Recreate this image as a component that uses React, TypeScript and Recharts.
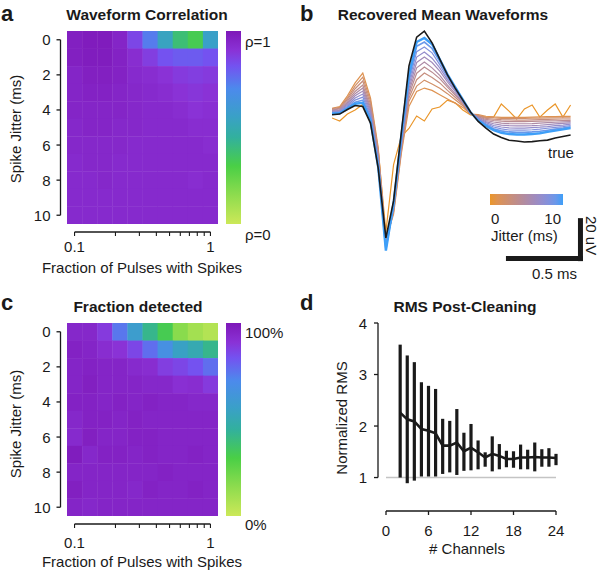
import React from "react";
import {
  ScatterChart,
  Scatter,
  LineChart,
  Line,
  XAxis,
  YAxis,
  ReferenceLine,
  ErrorBar,
} from "recharts";

const FONT = "'Liberation Sans', Arial, Helvetica, sans-serif";
const INK = "#1a1a1a";
const FS = 15;

// ---- a / c: heatmaps (rows = spike jitter 0..10 ms, cols = fraction of pulses) ----
const fractions = [0.1, 0.1292, 0.1668, 0.2154, 0.2783, 0.3594, 0.4642, 0.5995, 0.7743, 1];
const jitters = [0, 1, 2, 3, 4, 5, 6, 7, 8, 9, 10];
const fractionTicks = [0.1, 0.2, 0.3, 0.4, 0.5, 0.6, 0.7, 0.8, 0.9, 1];
const jitterTicks = [0, 2, 4, 6, 8, 10];

const corrValues = [
  [0.97, 0.985, 0.985, 0.95, 0.85, 0.73, 0.54, 0.38, 0.32, 0.56],
  [0.97, 0.98, 0.98, 0.96, 0.92, 0.87, 0.82, 0.8, 0.8, 0.82],
  [0.95, 0.97, 0.97, 0.96, 0.93, 0.92, 0.9, 0.88, 0.87, 0.88],
  [0.95, 0.96, 0.96, 0.95, 0.94, 0.93, 0.92, 0.9, 0.89, 0.9],
  [0.95, 0.95, 0.95, 0.95, 0.94, 0.93, 0.93, 0.92, 0.9, 0.91],
  [0.94, 0.95, 0.95, 0.94, 0.94, 0.93, 0.93, 0.93, 0.92, 0.92],
  [0.94, 0.94, 0.94, 0.94, 0.93, 0.93, 0.93, 0.93, 0.93, 0.92],
  [0.93, 0.94, 0.94, 0.93, 0.93, 0.93, 0.93, 0.93, 0.93, 0.93],
  [0.93, 0.93, 0.94, 0.93, 0.93, 0.93, 0.93, 0.93, 0.92, 0.93],
  [0.93, 0.93, 0.93, 0.93, 0.93, 0.93, 0.93, 0.93, 0.93, 0.93],
  [0.93, 0.93, 0.93, 0.93, 0.93, 0.93, 0.93, 0.93, 0.93, 0.93],
];

const detectValues = [
  [0.94, 0.94, 0.88, 0.74, 0.58, 0.42, 0.32, 0.16, 0.1, 0.06],
  [0.96, 0.95, 0.92, 0.9, 0.85, 0.76, 0.66, 0.55, 0.5, 0.42],
  [0.95, 0.96, 0.95, 0.95, 0.93, 0.92, 0.87, 0.85, 0.82, 0.76],
  [0.95, 0.97, 0.95, 0.95, 0.95, 0.94, 0.94, 0.91, 0.92, 0.88],
  [0.96, 0.96, 0.95, 0.96, 0.95, 0.96, 0.95, 0.95, 0.94, 0.94],
  [0.94, 0.96, 0.96, 0.95, 0.96, 0.95, 0.95, 0.95, 0.95, 0.95],
  [0.93, 0.97, 0.95, 0.95, 0.96, 0.96, 0.95, 0.95, 0.95, 0.95],
  [0.98, 0.94, 0.96, 0.96, 0.95, 0.96, 0.95, 0.95, 0.96, 0.95],
  [0.95, 0.95, 0.95, 0.95, 0.95, 0.95, 0.96, 0.95, 0.95, 0.95],
  [0.97, 0.95, 0.95, 0.95, 0.94, 0.96, 0.95, 0.95, 0.96, 0.95],
  [0.95, 0.94, 0.95, 0.95, 0.95, 0.95, 0.95, 0.95, 0.95, 0.95],
];

// ---- b: mean waveforms (uV), sampled every 0.05 ms ----
const timeMs = [
  0, 0.05, 0.1, 0.15, 0.2, 0.25, 0.3, 0.35, 0.4, 0.45, 0.5, 0.55, 0.6, 0.65, 0.7, 0.75,
  0.8, 0.85, 0.9, 0.95, 1.0, 1.05, 1.1, 1.15, 1.2, 1.25, 1.3, 1.35, 1.4, 1.45, 1.5, 1.55,
];
const trueWave = [
  -0.8, -0.5, 1.6, 3.5, 3.0, -4.7, -25.6, -58.1, -40.9, -9.3, 21.9, 35.3, 38.1, 32.6, 25.1, 17.7,
  11.6, 6.0, 0.5, -3.9, -7.0, -9.8, -11.4, -12.7, -13.0, -13.5, -13.3, -12.9, -12.6, -11.6, -10.9, -10.2,
];
const jitter0 = [
  -2.3, -3.7, -0.5, 1.4, 4.0, -2.3, -17, -55.3, -24, -11, -7.2, -1.4, -3.7, 1.9, 2.8, 6,
  4.7, 1.4, -0.9, -1.4, -1.9, -1.9, 4.2, 0.9, -2.8, 1.9, 3.7, -1.9, 1.4, 4.2, -1.9, 3.7,
];
const jitter1 = [
  2.2, 3, 8, 14, 18.6, 7, -16, -59, -47, -19, 3, 10, 11.6, 10.5, 8.5, 6.5,
  4.6, 2.6, -0.5, -0.8, -1.5, -1.8, -2, -2, -2, -2, -1.9, -1.8, -1.7, -1.7, -1.6, -1.6,
];
const jitter2 = [
  2, 2.6, 7, 12.6, 16.7, 5.5, -17, -60, -46, -18, 5.5, 12.5, 15.3, 13.5, 11.5, 9,
  6.2, 3.4, -0.5, -1.1, -2, -2.3, -2.5, -2.5, -2.5, -2.5, -2.4, -2.4, -2.3, -2.3, -2.2, -2.2,
];
const jitter3 = [
  1.7, 2.2, 6.3, 11.3, 14.9, 4, -18, -60.5, -45.5, -17, 7, 15.5, 18.6, 16.5, 14, 10.5,
  7.3, 4, -0.4, -1.4, -2.5, -2.9, -3.1, -3.2, -3.3, -3.3, -3.2, -3.1, -3, -2.9, -2.8, -2.8,
];
const jitter4 = [
  1.4, 1.9, 5.5, 10, 13, 2.7, -19, -61, -45, -16, 8.5, 18.5, 21.4, 19, 16, 12,
  8.3, 4.5, -0.3, -1.7, -3, -3.5, -3.8, -4, -4, -4, -3.9, -3.8, -3.7, -3.6, -3.5, -3.4,
];
const jitter5 = [
  1.1, 1.5, 4.8, 9, 11.6, 1.5, -20, -61.5, -44.5, -15.5, 10, 21, 23.7, 21, 17.5, 13,
  9, 4.9, -0.2, -2, -3.5, -4.2, -4.7, -4.9, -5, -5, -4.9, -4.7, -4.5, -4.3, -4.1, -4,
];
const jitter6 = [
  0.8, 1.2, 4.2, 8, 10.2, 0.5, -21, -62, -44, -15, 11.5, 23.5, 26, 23.5, 19.5, 14.5,
  10, 5.3, -0.1, -2.3, -4, -5, -5.6, -5.9, -6, -6, -5.9, -5.7, -5.4, -5.1, -4.8, -4.6,
];
const jitter7 = [
  0.5, 0.8, 3.6, 7, 8.8, -0.5, -22, -62.5, -43.5, -14, 13, 26, 28.4, 25.5, 21, 15.5,
  10.6, 5.6, 0, -2.6, -4.5, -5.8, -6.5, -6.9, -7, -7, -6.8, -6.6, -6.3, -5.9, -5.6, -5.2,
];
const jitter8 = [
  0.2, 0.5, 3, 6, 7.4, -1.5, -23, -63, -43, -13, 14.5, 28.5, 30.7, 28, 22.5, 16.5,
  11.2, 5.9, 0.1, -2.9, -5, -6.5, -7.4, -7.9, -8, -8, -7.8, -7.5, -7.1, -6.7, -6.3, -5.8,
];
const jitter9 = [
  0, 0.2, 2.5, 5, 6, -2.5, -24, -63.5, -42.5, -12, 16, 31, 33, 30, 24, 17.5,
  11.8, 6.1, 0.2, -3.2, -5.5, -7.3, -8.3, -8.8, -9, -9, -8.8, -8.5, -8, -7.5, -7, -6.4,
];
const jitter10 = [
  -0.3, -0.1, 2.0, 4.3, 4.7, -3.5, -25, -64, -42, -11, 18, 33, 34.9, 32, 25, 18,
  12, 6.2, 0.3, -3.5, -6, -8, -9.2, -9.8, -10, -10, -9.8, -9.4, -8.8, -8.2, -7.6, -7,
];
const recovered = [jitter0, jitter1, jitter2, jitter3, jitter4, jitter5, jitter6, jitter7, jitter8, jitter9, jitter10];
const jitterColors = [
  "#EA962A", "#DE9352", "#D29068", "#C68E7E", "#BA8C92", "#AE8BA6",
  "#A28BBA", "#948DCC", "#8291DC", "#6A98EA", "#3E9FF8",
];
// scale bar: 0.5 ms x 20 uV, anchored at its lower-left corner
const scaleBarMs = 0.5;
const scaleBarUv = 20;
const scaleBarAt = { t: 1.13, uv: -67.7 };

// ---- d: RMS post-cleaning ----
const channels = [2, 3, 4, 5, 6, 7, 8, 9, 10, 11, 12, 13, 14, 15, 16, 17, 18, 19, 20, 21, 22, 23, 24];
const rmsMean = [2.26, 2.13, 2.09, 1.94, 1.91, 1.86, 1.62, 1.62, 1.68, 1.51, 1.58, 1.49, 1.39, 1.46, 1.42, 1.36, 1.36, 1.39, 1.39, 1.4, 1.39, 1.39, 1.38];
const rmsHigh = [3.58, 3.37, 3.24, 2.85, 2.78, 2.72, 2.14, 2.1, 2.33, 1.87, 2.04, 1.72, 1.49, 1.8, 1.65, 1.52, 1.51, 1.64, 1.54, 1.68, 1.55, 1.57, 1.46];
const rmsLow = [1.0, 0.89, 0.94, 1.02, 1.02, 1.02, 1.07, 1.1, 1.05, 1.13, 1.14, 1.16, 1.21, 1.12, 1.16, 1.2, 1.19, 1.16, 1.16, 1.12, 1.21, 1.21, 1.24];

// colour map (value -> colour), 1 = top of the colour bar
const cmapStops: [number, string][] = [
  [0, "#CCE858"],
  [0.15, "#8EDC4E"],
  [0.3, "#4ACF46"],
  [0.45, "#32B09E"],
  [0.56, "#3AA0C8"],
  [0.7, "#4C8AEC"],
  [0.82, "#7452F0"],
  [0.9, "#8A32D6"],
  [1, "#7E18B8"],
];

function hex(c: string) {
  return [1, 3, 5].map((i) => parseInt(c.slice(i, i + 2), 16));
}
function cmap(v: number) {
  for (let i = 1; i < cmapStops.length; i++) {
    const [v0, c0] = cmapStops[i - 1];
    const [v1, c1] = cmapStops[i];
    if (v <= v1) {
      const t = Math.max(0, (v - v0) / (v1 - v0));
      const a = hex(c0);
      const b = hex(c1);
      return `rgb(${a.map((x, k) => Math.round(x + (b[k] - x) * t)).join(",")})`;
    }
  }
  return cmapStops[cmapStops.length - 1][1];
}

// heatmap layout
const HM_W = 225;
const HM_H = 260;
const HM_PLOT_W = 151;
const HM_PLOT_H = 193;
const cellW = HM_PLOT_W / fractions.length;
const cellH = HM_PLOT_H / jitters.length;
const logLo = Math.pow(10, -1 - 1 / 18);
const logHi = Math.pow(10, 1 / 18);

const fractionTick = (labelDy: number) => (p: any) => {
  const { x, y, payload } = p;
  const ay = y + 8;
  const v = payload.value;
  return (
    <g>
      {v === 0.1 && <line x1={x} x2={x + HM_PLOT_W * 0.9} y1={ay} y2={ay} stroke={INK} strokeWidth={1.3} />}
      <line x1={x} x2={x} y1={ay} y2={ay + 4} stroke={INK} strokeWidth={1.1} />
      {(v === 0.1 || v === 1) && (
        <text x={x} y={ay + labelDy} textAnchor="middle" fontSize={FS} fill={INK} fontFamily={FONT}>
          {v}
        </text>
      )}
    </g>
  );
};

const jitterTick = (p: any) => {
  const { x, y, payload } = p;
  const ax = x - 6.5;
  return (
    <g>
      {payload.value === 0 && <line x1={ax} x2={ax} y1={y} y2={y + cellH * 10} stroke={INK} strokeWidth={1.3} />}
      <line x1={ax - 4} x2={ax} y1={y} y2={y} stroke={INK} strokeWidth={1.3} />
      <text x={ax - 10} y={y + 5.5} textAnchor="end" fontSize={FS} fill={INK} fontFamily={FONT}>
        {payload.value}
      </text>
    </g>
  );
};

const cellShape = (p: any) => (
  <rect
    x={p.cx - cellW / 2}
    y={p.cy - cellH / 2}
    width={cellW + 0.4}
    height={cellH + 0.4}
    fill={cmap(p.payload.v)}
  />
);

function Heatmap({ values, top, labelDy }: { values: number[][]; top: number; labelDy: number }) {
  const cells: { frac: number; jitter: number; v: number }[] = [];
  jitters.forEach((j, r) => fractions.forEach((f, c) => cells.push({ frac: f, jitter: j, v: values[r][c] })));
  return (
    <div style={{ position: "absolute", left: 0, top }}>
      <ScatterChart width={HM_W} height={HM_H} margin={{ top: 31, right: 7, bottom: 0, left: 17 }}>
        <XAxis
          type="number"
          dataKey="frac"
          scale="log"
          domain={[logLo, logHi]}
          allowDataOverflow
          ticks={fractionTicks}
          interval={0}
          height={36}
          tick={fractionTick(labelDy)}
          tickLine={false}
          axisLine={false}
          tickSize={0}
          tickMargin={0}
        />
        <YAxis
          type="number"
          dataKey="jitter"
          domain={[-0.5, 10.5]}
          allowDataOverflow
          reversed
          ticks={jitterTicks}
          interval={0}
          width={50}
          tick={jitterTick}
          tickLine={false}
          axisLine={false}
          tickSize={0}
          tickMargin={0}
        />
        <Scatter data={cells} shape={cellShape} isAnimationActive={false} />
      </ScatterChart>
    </div>
  );
}

function Waveforms() {
  const rows = timeMs.map((t, i) => {
    const row: Record<string, number> = { t, truth: trueWave[i] };
    recovered.forEach((w, j) => (row["j" + j] = w[i]));
    return row;
  });
  const { t, uv } = scaleBarAt;
  return (
    <div style={{ position: "absolute", left: 300, top: 0 }}>
      <LineChart width={300} height={290} data={rows} margin={{ top: 22.7, right: 14, bottom: 26.5, left: 32 }}>
        <XAxis type="number" dataKey="t" domain={[0, 1.65]} allowDataOverflow hide />
        <YAxis type="number" domain={[-70, 42]} allowDataOverflow hide />
        {recovered.map((_, j) => (
          <Line
            key={j}
            type="linear"
            dataKey={"j" + j}
            stroke={jitterColors[j]}
            strokeWidth={j === 10 ? 2.4 : j === 9 ? 1.6 : 1.2}
            dot={false}
            isAnimationActive={false}
          />
        ))}
        <Line type="linear" dataKey="truth" stroke={INK} strokeWidth={1.6} dot={false} isAnimationActive={false} />
        <ReferenceLine
          segment={[{ x: t, y: uv }, { x: t + scaleBarMs, y: uv }]}
          stroke={INK}
          strokeWidth={5}
          ifOverflow="visible"
        />
        <ReferenceLine
          segment={[{ x: t + scaleBarMs - 0.016, y: uv - 1.2 }, { x: t + scaleBarMs - 0.016, y: uv - 1.2 + scaleBarUv }]}
          stroke={INK}
          strokeWidth={5}
          ifOverflow="visible"
        />
      </LineChart>
    </div>
  );
}

const RMS_PLOT_W = 170;
const RMS_PLOT_H = 180.3;

const channelTick = (p: any) => {
  const { x, y, payload } = p;
  const ay = y + 7.7;
  return (
    <g>
      {payload.value === 0 && <line x1={x} x2={x + RMS_PLOT_W} y1={ay} y2={ay} stroke={INK} strokeWidth={1.3} />}
      <line x1={x} x2={x} y1={ay} y2={ay + 4} stroke={INK} strokeWidth={1.3} />
      <text x={x} y={ay + 25} textAnchor="middle" fontSize={FS} fill={INK} fontFamily={FONT}>
        {payload.value}
      </text>
    </g>
  );
};

const rmsTick = (p: any) => {
  const { x, y, payload } = p;
  const ax = x - 8;
  const unit = RMS_PLOT_H / 3.5;
  return (
    <g>
      {payload.value === 1 && <line x1={ax} x2={ax} y1={y} y2={y - unit * 3} stroke={INK} strokeWidth={1.3} />}
      <line x1={ax - 4} x2={ax} y1={y} y2={y} stroke={INK} strokeWidth={1.3} />
      <text x={ax - 11} y={y + 5.5} textAnchor="end" fontSize={FS} fill={INK} fontFamily={FONT}>
        {payload.value}
      </text>
    </g>
  );
};

function RmsChart() {
  const rows = channels.map((ch, i) => ({
    ch,
    mean: rmsMean[i],
    err: [rmsMean[i] - rmsLow[i], rmsHigh[i] - rmsMean[i]],
  }));
  return (
    <div style={{ position: "absolute", left: 300, top: 290 }}>
      <LineChart width={300} height={282} data={rows} margin={{ top: 33, right: 44, bottom: 18.7, left: 26 }}>
        <XAxis
          type="number"
          dataKey="ch"
          domain={[0, 24]}
          allowDataOverflow
          ticks={[0, 6, 12, 18, 24]}
          interval={0}
          height={50}
          tick={channelTick}
          tickLine={false}
          axisLine={false}
          tickSize={0}
          tickMargin={0}
        />
        <YAxis
          type="number"
          domain={[0.5, 4]}
          allowDataOverflow
          ticks={[1, 2, 3, 4]}
          interval={0}
          width={60}
          tick={rmsTick}
          tickLine={false}
          axisLine={false}
          tickSize={0}
          tickMargin={0}
        />
        <ReferenceLine y={1} stroke="#c4c4c4" strokeWidth={1.5} />
        <Line type="linear" dataKey="mean" stroke={INK} strokeWidth={2.6} dot={false} isAnimationActive={false}>
          <ErrorBar dataKey="err" direction="y" width={0} stroke={INK} strokeWidth={3.2} />
        </Line>
      </LineChart>
    </div>
  );
}

function Overlay() {
  const txt = { fill: INK, fontFamily: FONT } as const;
  const title = { ...txt, fontSize: 15.5, fontWeight: "bold" as const, textAnchor: "middle" as const };
  const letter = { ...txt, fontSize: 22, fontWeight: "bold" as const };
  return (
    <svg width={600} height={572} style={{ position: "absolute", left: 0, top: 0, pointerEvents: "none" }}>
      <defs>
        <linearGradient id="cbar" x1="0" y1="0" x2="0" y2="1">
          {cmapStops
            .slice()
            .reverse()
            .map(([v, c]) => (
              <stop key={v} offset={1 - v} stopColor={c} />
            ))}
        </linearGradient>
        <linearGradient id="jbar" x1="0" y1="0" x2="1" y2="0">
          {jitterColors.map((c, i) => (
            <stop key={i} offset={i / (jitterColors.length - 1)} stopColor={c} />
          ))}
        </linearGradient>
      </defs>

      {/* a */}
      <text x={1} y={20.5} {...letter}>a</text>
      <text x={147} y={19.5} {...title}>Waveform Correlation</text>
      <rect x={226} y={31} width={15} height={193} fill="url(#cbar)" />
      <text x={245} y={47} fontSize={FS} {...txt}>ρ=1</text>
      <text x={245} y={240} fontSize={FS} {...txt}>ρ=0</text>
      <text x={21} y={129} fontSize={FS} textAnchor="middle" transform="rotate(-90 21 129)" {...txt}>Spike Jitter (ms)</text>
      <text x={142} y={272.5} fontSize={FS} textAnchor="middle" {...txt}>Fraction of Pulses with Spikes</text>

      {/* b */}
      <text x={300} y={20.5} {...letter}>b</text>
      <text x={443} y={19.5} {...title}>Recovered Mean Waveforms</text>
      <text x={548} y={158} fontSize={FS} {...txt}>true</text>
      <rect x={490} y={194} width={73} height={11} fill="url(#jbar)" />
      <text x={491} y={224} fontSize={FS} {...txt}>0</text>
      <text x={561} y={224} fontSize={FS} textAnchor="end" {...txt}>10</text>
      <text x={491} y={241} fontSize={FS} {...txt}>Jitter (ms)</text>
      <text x={577} y={279} fontSize={FS} textAnchor="end" {...txt}>0.5 ms</text>
      <text x={586} y={216} fontSize={FS} transform="rotate(90 586 216)" {...txt}>20 uV</text>

      {/* c */}
      <text x={1} y={310} {...letter}>c</text>
      <text x={138} y={311.5} {...title}>Fraction detected</text>
      <rect x={226} y={323} width={15} height={193} fill="url(#cbar)" />
      <text x={245} y={338} fontSize={FS} {...txt}>100%</text>
      <text x={245} y={530} fontSize={FS} {...txt}>0%</text>
      <text x={21} y={424} fontSize={FS} textAnchor="middle" transform="rotate(-90 21 424)" {...txt}>Spike Jitter (ms)</text>
      <text x={142} y={567} fontSize={FS} textAnchor="middle" {...txt}>Fraction of Pulses with Spikes</text>

      {/* d */}
      <text x={300} y={310} {...letter}>d</text>
      <text x={465} y={312} {...title}>RMS Post-Cleaning</text>
      <text x={347} y={418} fontSize={FS} textAnchor="middle" transform="rotate(-90 347 418)" {...txt}>Normalized RMS</text>
      <text x={467} y={553.5} fontSize={FS} textAnchor="middle" {...txt}># Channels</text>
    </svg>
  );
}

export default function App() {
  return (
    <div
      style={{
        position: "fixed",
        left: 0,
        top: 0,
        width: 600,
        height: 572,
        background: "#fff",
        overflow: "hidden",
        fontFamily: FONT,
      }}
    >
      <Heatmap values={corrValues} top={0} labelDy={20} />
      <Waveforms />
      <Heatmap values={detectValues} top={292} labelDy={24} />
      <RmsChart />
      <Overlay />
    </div>
  );
}
